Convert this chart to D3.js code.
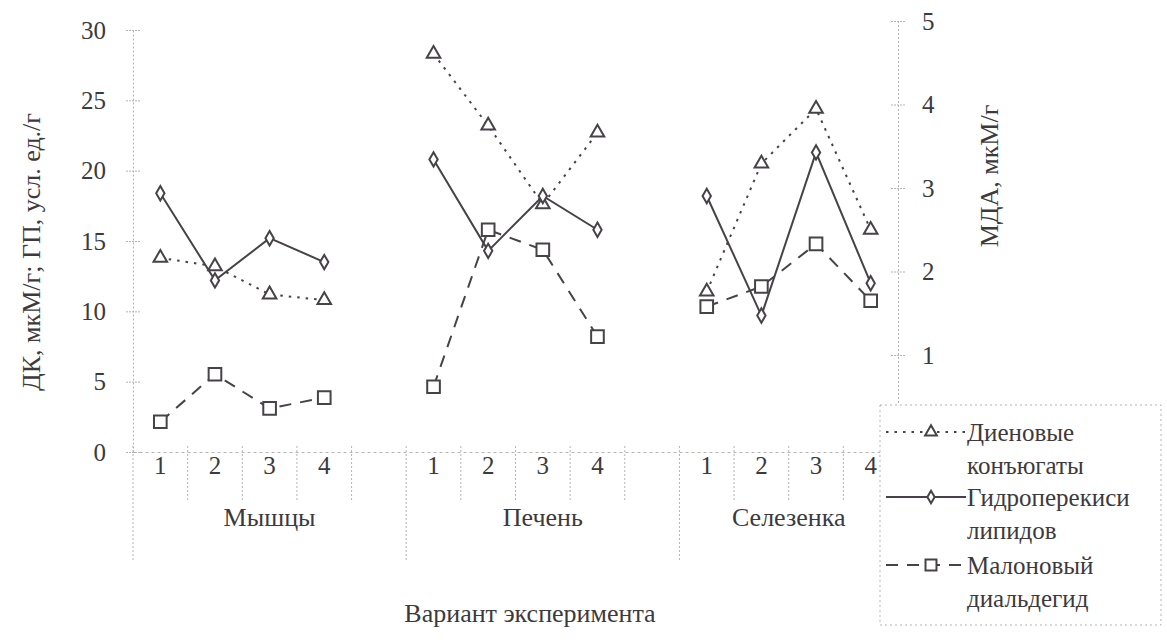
<!DOCTYPE html>
<html>
<head>
<meta charset="utf-8">
<script src="https://cdn.jsdelivr.net/npm/d3@7"></script>
<style>
  body { margin: 0; background: #fff; }
  text { font-family: "Liberation Serif", "DejaVu Serif", serif; fill: #3c3a3c; }
</style>
</head>
<body>
<div id="chart"></div>
<script>
// Line chart: lipid peroxidation products by tissue and experiment variant

const groups = ["Мышцы", "Печень", "Селезенка"];
const variants = ["1", "2", "3", "4"];
// ДК, мкМ/г (left axis)
const dk = [[13.8, 13.2, 11.2, 10.8], [28.3, 23.2, 17.6, 22.7], [11.4, 20.5, 24.4, 15.8]];
// ГП, усл. ед./г (left axis)
const gp = [[18.4, 12.2, 15.2, 13.5], [20.8, 14.3, 18.2, 15.8], [18.2, 9.7, 21.3, 12.0]];
// МДА, мкМ/г (right axis)
const mda = [[0.20, 0.77, 0.36, 0.49], [0.62, 2.50, 2.26, 1.22], [1.58, 1.82, 2.33, 1.65]];
const leftTicks = [0, 5, 10, 15, 20, 25, 30];
const rightTicks = [1, 2, 3, 4, 5];
const seriesNames = [["Диеновые", "конъюгаты"], ["Гидроперекиси", "липидов"], ["Малоновый", "диальдегид"]];

const width = 1167, height = 640;
const lineColor = "#474247";
const axisColor = "#b5b3b5";
const tickFont = "25px";

const svg = d3.select("#chart").append("svg")
  .attr("width", width)
  .attr("height", height);

// category slots: 4 variants per tissue, with an empty slot between tissues
const slots = [];
groups.forEach((g, gi) => {
  variants.forEach(v => slots.push({ id: g + "-" + v, label: v, group: gi }));
  if (gi < groups.length - 1) slots.push({ id: g + "-gap", label: "", group: gi });
});

const x = d3.scaleBand().domain(slots.map(s => s.id)).range([133, 898]).padding(0);
const cx = id => x(id) + x.bandwidth() / 2;
const yL = d3.scaleLinear().domain([0, 30]).range([452, 30]);
const yR = d3.scaleLinear().domain([0, 5]).range([438.5, 21]);

// left axis
const axL = svg.append("g").attr("transform", "translate(133,0)")
  .call(d3.axisLeft(yL).tickValues(leftTicks).tickFormat(d3.format("d"))
    .tickSizeInner(7).tickSizeOuter(0).tickPadding(20));
axL.select(".domain").attr("stroke", axisColor).attr("stroke-dasharray", "2,2");
axL.selectAll(".tick line").attr("x1", -7).attr("x2", 7).attr("stroke", axisColor).attr("stroke-dasharray", "2,1");
axL.selectAll(".tick text").style("font-size", tickFont).style("font-family", "Liberation Serif").style("fill", "#3c3a3c");

// right axis
const axR = svg.append("g").attr("transform", "translate(898,0)")
  .call(d3.axisRight(yR).tickValues(rightTicks).tickFormat(d3.format("d"))
    .tickSizeInner(7).tickSizeOuter(0).tickPadding(17));
axR.select(".domain").attr("stroke", axisColor).attr("stroke-dasharray", "2,2");
axR.selectAll(".tick line").attr("x1", -7).attr("x2", 7).attr("stroke", axisColor).attr("stroke-dasharray", "2,1");
axR.selectAll(".tick text").style("font-size", tickFont).style("font-family", "Liberation Serif").style("fill", "#3c3a3c");

// bottom category axis
const axB = svg.append("g").attr("transform", `translate(0,${yL(0)})`)
  .call(d3.axisBottom(x).tickSize(0).tickPadding(4).tickFormat(id => slots.find(s => s.id === id).label));
axB.select(".domain").attr("stroke", axisColor).attr("stroke-dasharray", "3,3");
axB.selectAll(".tick text").style("font-size", tickFont).style("font-family", "Liberation Serif").style("fill", "#3c3a3c");

// separators between categories and between tissues
const edges = slots.map((s, i) => ({ xv: x(s.id), major: i === 0 || s.group !== slots[i - 1].group }));
edges.push({ xv: x(slots[slots.length - 1].id) + x.bandwidth(), major: true });
svg.append("g").selectAll("line").data(edges).join("line")
  .attr("x1", d => d.xv).attr("x2", d => d.xv)
  .attr("y1", yL(0) - 6)
  .attr("y2", d => d.major ? yL(0) + 110 : yL(0) + 48)
  .attr("stroke", axisColor).attr("stroke-dasharray", "2,2");

// tissue labels
svg.append("g").selectAll("text").data(groups).join("text")
  .attr("x", (g, gi) => {
    const s = slots.filter(d => d.group === gi && d.label !== "");
    const a = x(s[0].id), b = x(s[s.length - 1].id) + x.bandwidth();
    return gi < groups.length - 1 ? (a + b + x.bandwidth()) / 2 : (a + b) / 2;
  })
  .attr("y", yL(0) + 74)
  .attr("text-anchor", "middle")
  .style("font-size", "26px")
  .text(d => d);

// axis titles
svg.append("text")
  .attr("transform", "translate(40,252) rotate(-90)")
  .attr("text-anchor", "middle")
  .style("font-size", "26px")
  .text("ДК, мкМ/г; ГП, усл. ед./г");
svg.append("text")
  .attr("transform", "translate(998,176) rotate(-90)")
  .attr("text-anchor", "middle")
  .style("font-size", "26px")
  .text("МДА, мкМ/г");
svg.append("text")
  .attr("x", 530).attr("y", 622)
  .attr("text-anchor", "middle")
  .style("font-size", "26px")
  .text("Вариант эксперимента");

// series
const series = [
  { values: dk, scale: yL, dash: "2.5,6", sym: d3.symbolTriangle, size: 80 },
  { values: gp, scale: yL, dash: null, sym: d3.symbolDiamond, size: 60 },
  { values: mda, scale: yR, dash: "12,9", sym: d3.symbolSquare, size: 160 }
];

const line = d3.line().x(d => d[0]).y(d => d[1]);

series.forEach(s => {
  const g = svg.append("g");
  groups.forEach((grp, gi) => {
    const pts = variants.map((v, vi) => [cx(grp + "-" + v), s.scale(s.values[gi][vi])]);
    g.append("path")
      .attr("d", line(pts))
      .attr("fill", "none")
      .attr("stroke", lineColor)
      .attr("stroke-width", 2)
      .attr("stroke-dasharray", s.dash);
    g.selectAll(null).data(pts).join("path")
      .attr("transform", d => `translate(${d[0]},${d[1]})`)
      .attr("d", d3.symbol().type(s.sym).size(s.size))
      .attr("fill", "#fff")
      .attr("stroke", lineColor)
      .attr("stroke-width", 2);
  });
});

// legend
const lg = svg.append("g");
lg.append("rect")
  .attr("x", 880).attr("y", 405).attr("width", 281).attr("height", 220)
  .attr("fill", "#fff")
  .attr("stroke", axisColor).attr("stroke-dasharray", "2,3");
const rowY = [432, 497, 565];
series.forEach((s, i) => {
  const yy = rowY[i];
  lg.append("line")
    .attr("x1", 886).attr("x2", 966).attr("y1", yy).attr("y2", yy)
    .attr("stroke", lineColor).attr("stroke-width", 2)
    .attr("stroke-dasharray", s.dash);
  lg.append("path")
    .attr("transform", `translate(931,${yy})`)
    .attr("d", d3.symbol().type(s.sym).size(s.size * 0.75))
    .attr("fill", "#fff").attr("stroke", lineColor).attr("stroke-width", 2);
  seriesNames[i].forEach((t, j) => {
    lg.append("text")
      .attr("x", 967).attr("y", yy + j * 33)
      .attr("dy", "0.35em")
      .style("font-size", "25px")
      .text(t);
  });
});
</script>
</body>
</html>
